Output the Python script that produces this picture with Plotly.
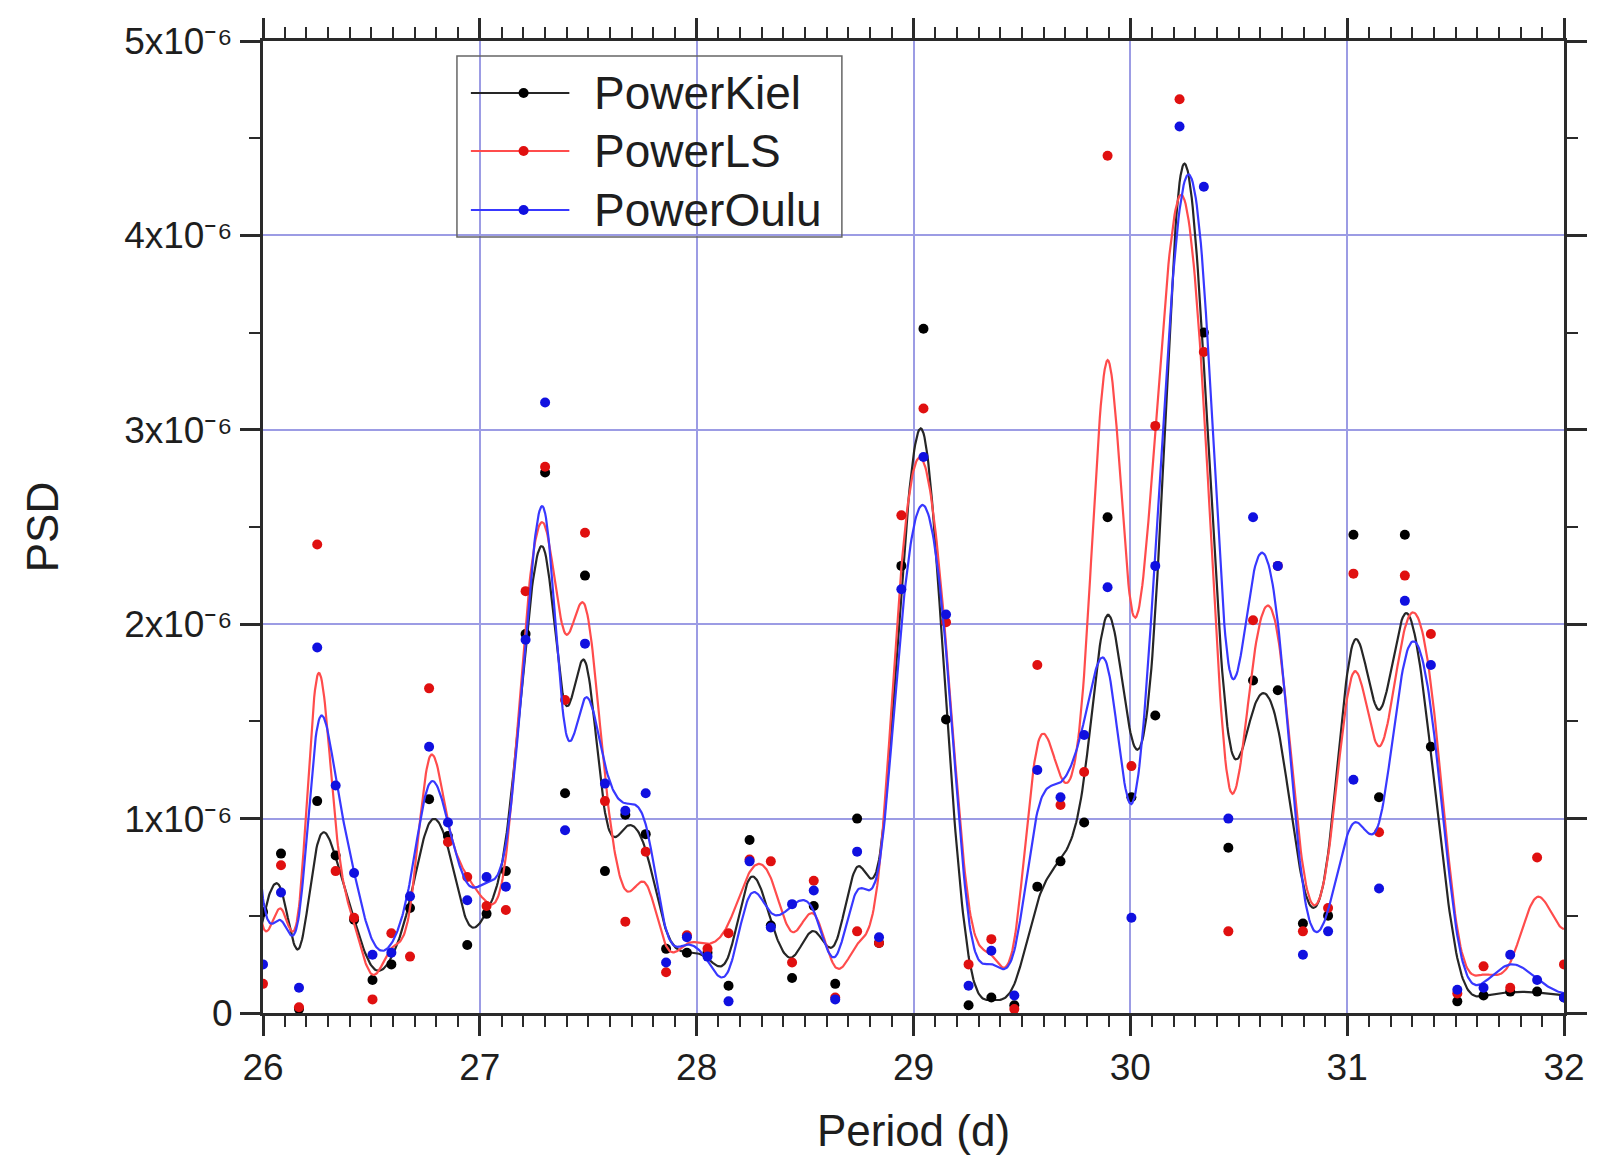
import numpy as np
import plotly.graph_objects as go

# Periods (days) of the spectral estimates; the first two and last two
# samples lie just outside the 26-32 d window and only shape the curve ends.
period = [25.836, 25.918,
          26.000, 26.083, 26.166, 26.250, 26.335, 26.420, 26.505, 26.592, 26.678, 26.766,
          26.853, 26.942, 27.031, 27.120, 27.211, 27.301, 27.393, 27.485, 27.577, 27.671,
          27.765, 27.859, 27.955, 28.050, 28.147, 28.244, 28.342, 28.440, 28.540, 28.639,
          28.740, 28.841, 28.944, 29.046, 29.150, 29.254, 29.359, 29.465, 29.571, 29.678,
          29.787, 29.895, 30.005, 30.115, 30.227, 30.339, 30.452, 30.566, 30.680, 30.796,
          30.912, 31.029, 31.147, 31.266, 31.386, 31.508, 31.629, 31.752, 31.876, 32.000,
          32.126, 32.253]

# Power spectral density, in units of 1e-6
power_kiel = [0.50, 0.05,
              0.52, 0.82, 0.02, 1.09, 0.81, 0.48, 0.17, 0.25, 0.54, 1.10,
              0.91, 0.35, 0.51, 0.73, 1.95, 2.78, 1.13, 2.25, 0.73, 1.02,
              0.92, 0.33, 0.31, 0.31, 0.14, 0.89, 0.45, 0.18, 0.55, 0.15,
              1.00, 0.36, 2.30, 3.52, 1.51, 0.04, 0.08, 0.04, 0.65, 0.78,
              0.98, 2.55, 1.11, 1.53, 5.15, 3.50, 0.85, 1.71, 1.66, 0.46,
              0.50, 2.46, 1.11, 2.46, 1.37, 0.06, 0.09, 0.11, 0.11, 0.08,
              0.12, 0.10]

power_ls = [0.50, 1.30,
            0.15, 0.76, 0.03, 2.41, 0.73, 0.49, 0.07, 0.41, 0.29, 1.67,
            0.88, 0.70, 0.55, 0.53, 2.17, 2.81, 1.61, 2.47, 1.09, 0.47,
            0.83, 0.21, 0.40, 0.33, 0.41, 0.79, 0.78, 0.26, 0.68, 0.08,
            0.42, 0.36, 2.56, 3.11, 2.01, 0.25, 0.38, 0.02, 1.79, 1.07,
            1.24, 4.41, 1.27, 3.02, 4.70, 3.40, 0.42, 2.02, 2.30, 0.42,
            0.54, 2.26, 0.93, 2.25, 1.95, 0.10, 0.24, 0.13, 0.80, 0.25,
            0.80, 0.30]

power_oulu = [0.50, 1.90,
              0.25, 0.62, 0.13, 1.88, 1.17, 0.72, 0.30, 0.31, 0.60, 1.37,
              0.98, 0.58, 0.70, 0.65, 1.92, 3.14, 0.94, 1.90, 1.18, 1.04,
              1.13, 0.26, 0.39, 0.29, 0.06, 0.78, 0.44, 0.56, 0.63, 0.07,
              0.83, 0.39, 2.18, 2.86, 2.05, 0.14, 0.32, 0.09, 1.25, 1.11,
              1.43, 2.19, 0.49, 2.30, 4.56, 4.25, 1.00, 2.55, 2.30, 0.30,
              0.42, 1.20, 0.64, 2.12, 1.79, 0.12, 0.13, 0.30, 0.17, 0.08,
              0.12, 0.10]

series_names = ["PowerKiel", "PowerLS", "PowerOulu"]
marker_colors = ["#000000", "#e01010", "#1010e0"]
line_colors = ["#262626", "#ff4c4c", "#3838ff"]

x_tick_vals = [26, 27, 28, 29, 30, 31, 32]
y_tick_vals = [0, 1e-6, 2e-6, 3e-6, 4e-6, 5e-6]
y_tick_text = ["0", "1x10\u207b\u2076", "2x10\u207b\u2076", "3x10\u207b\u2076",
               "4x10\u207b\u2076", "5x10\u207b\u2076"]

SCALE = 1e-6
FONT = "Liberation Sans, Arial, sans-serif"
TEXT_COLOR = "#1e1e1e"


def bspline(xs, ys, samples=24):
    """Uniform cubic B-spline through the control points (x, y)."""
    px = np.asarray(xs, dtype=float)
    py = np.asarray(ys, dtype=float)
    t = np.linspace(0.0, 1.0, samples, endpoint=False)
    b0 = (1 - t) ** 3 / 6.0
    b1 = (3 * t ** 3 - 6 * t ** 2 + 4) / 6.0
    b2 = (-3 * t ** 3 + 3 * t ** 2 + 3 * t + 1) / 6.0
    b3 = t ** 3 / 6.0
    cx, cy = [], []
    for i in range(1, len(px) - 2):
        cx.append(b0 * px[i - 1] + b1 * px[i] + b2 * px[i + 1] + b3 * px[i + 2])
        cy.append(b0 * py[i - 1] + b1 * py[i] + b2 * py[i + 1] + b3 * py[i + 2])
    return np.concatenate(cx), np.concatenate(cy)


fig = go.Figure()
all_series = [power_kiel, power_ls, power_oulu]
for name, vals, mcol, lcol in zip(series_names, all_series, marker_colors, line_colors):
    y = np.asarray(vals) * SCALE
    sx, sy = bspline(period, y)
    fig.add_trace(go.Scatter(x=sx, y=sy, mode="lines", name=name, showlegend=False,
                             line=dict(color=lcol, width=2.2), hoverinfo="skip"))
    fig.add_trace(go.Scatter(x=period, y=y, mode="markers", name=name, showlegend=False,
                             marker=dict(color=mcol, size=10, symbol="circle")))

# Legend box drawn in paper coordinates
L, R, T, B = 263, 1571, 41, 1013
W, H = R - L, B - T


def px_x(p):
    return (p - L) / W


def px_y(p):
    return (B - p) / H


shapes = [dict(type="rect", xref="paper", yref="paper",
               x0=px_x(458), x1=px_x(845), y0=px_y(237), y1=px_y(56),
               line=dict(color="#666666", width=1.5), fillcolor="rgba(0,0,0,0)")]
annotations = []
row_y = [93, 151, 210]
for name, mcol, lcol, ry in zip(series_names, marker_colors, line_colors, row_y):
    yy = px_y(ry)
    shapes.append(dict(type="line", xref="paper", yref="paper",
                       x0=px_x(472), x1=px_x(571), y0=yy, y1=yy,
                       line=dict(color=lcol, width=2)))
    shapes.append(dict(type="circle", xref="paper", yref="paper",
                       xsizemode="pixel", ysizemode="pixel",
                       xanchor=px_x(525), yanchor=yy, x0=-5, x1=5, y0=-5, y1=5,
                       fillcolor=mcol, line=dict(color=mcol, width=0)))
    annotations.append(dict(xref="paper", yref="paper", x=px_x(594), y=yy,
                            xanchor="left", yanchor="middle", showarrow=False,
                            text=name, font=dict(family=FONT, size=46, color=TEXT_COLOR)))

axis_common = dict(
    showline=True, linecolor="#2a2a2a", linewidth=3, mirror="ticks",
    ticks="outside", ticklen=20, tickwidth=3, tickcolor="#2a2a2a",
    showgrid=True, gridcolor="#9c9ce4", gridwidth=2, zeroline=False,
    tickfont=dict(family=FONT, size=37, color=TEXT_COLOR),
)

fig.update_layout(
    width=1599, height=1170,
    margin=dict(l=L, r=1599 - R, t=T, b=1170 - B),
    paper_bgcolor="white", plot_bgcolor="white",
    showlegend=False,
    shapes=shapes, annotations=annotations,
    xaxis=dict(range=[26, 32], tickmode="array", tickvals=x_tick_vals,
               minor=dict(dtick=0.1, tick0=26, ticks="outside", ticklen=11,
                          tickwidth=2, tickcolor="#2a2a2a", showgrid=False),
               title=dict(text="Period (d)", standoff=28,
                          font=dict(family=FONT, size=44, color=TEXT_COLOR)),
               **axis_common),
    yaxis=dict(range=[0, 5e-6], tickmode="array", tickvals=y_tick_vals,
               ticktext=y_tick_text,
               minor=dict(dtick=0.5e-6, tick0=0, ticks="outside", ticklen=11,
                          tickwidth=2, tickcolor="#2a2a2a", showgrid=False),
               title=dict(text="PSD", standoff=52,
                          font=dict(family=FONT, size=44, color=TEXT_COLOR)),
               **axis_common),
)

fig.write_html("out.html")
